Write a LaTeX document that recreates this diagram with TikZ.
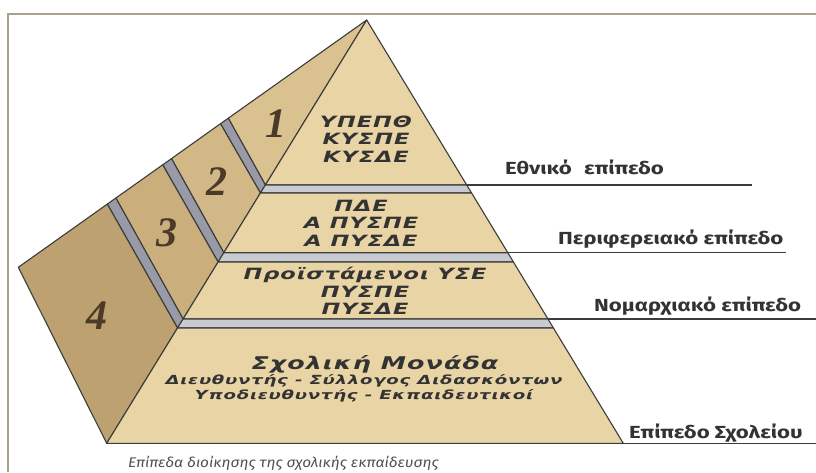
\documentclass[tikz,border=0pt]{standalone}
\usepackage{fontspec}
\setmainfont{DejaVu Sans}
\newfontfamily\tierfont{DejaVu Sans}[FakeStretch=1.45, LetterSpace=6]
\newfontfamily\labelfont{Fira Sans}[FakeStretch=1.27]
\newfontfamily\numfont{Liberation Serif}
\newfontfamily\capfont{Fira Sans}[FakeStretch=1.1]
\definecolor{frontc}{HTML}{E9D4A6}
\definecolor{sideA}{HTML}{DAC190}
\definecolor{sideB}{HTML}{D2B886}
\definecolor{sideC}{HTML}{CAAE7C}
\definecolor{sideD}{HTML}{BDA170}
\definecolor{bandside}{HTML}{989AA7}
\definecolor{bandfront}{HTML}{C8CCD2}
\definecolor{edgec}{HTML}{3C3C3C}
\definecolor{framec}{HTML}{A9A189}
\definecolor{textc}{HTML}{333333}
\definecolor{numc}{HTML}{4B3A27}
\definecolor{capc}{HTML}{505050}
\tikzset{
  piece/.style={draw=edgec, line width=1.1pt, line join=round},
  levelline/.style={draw=edgec, line width=1.1pt},
  tiertext/.style={font=\tierfont\bfseries\itshape\fontsize{15.5}{17.5}\selectfont, text=textc, align=center, inner sep=0pt},
  smalltier/.style={font=\tierfont\bfseries\itshape\fontsize{12.5}{15}\selectfont, text=textc, align=center, inner sep=0pt},
  levellabel/.style={font=\labelfont\bfseries\fontsize{17.5}{19}\selectfont, text=textc, anchor=base west, inner sep=0pt},
  numlabel/.style={font=\numfont\bfseries\itshape\fontsize{42}{42}\selectfont, text=numc, inner sep=0pt},
}
\begin{document}
\begin{tikzpicture}[x=1pt,y=-1pt]
\useasboundingbox (0,0) rectangle (816,472);
\fill[white] (0,0) rectangle (816,472);
% frame
\coordinate (F1) at (8,472);
\coordinate (F2) at (8,14);
\coordinate (F3) at (816,14);
\draw[framec, line width=2.2pt] (F1) -- (F2) -- (F3);
% key points
\coordinate (A) at (366.7,20);
\coordinate (S) at (18.3,267.3);
\coordinate (BL) at (106.7,443.3);
\coordinate (BR) at (623.3,443.3);
\coordinate (P1) at (265.4,185);
\coordinate (P2) at (260.4,193);
\coordinate (P3) at (223.8,252.7);
\coordinate (P4) at (218.1,262);
\coordinate (P5) at (183.1,319);
\coordinate (P6) at (177.5,328);
\coordinate (R1) at (466.7,185);
\coordinate (R2) at (471.6,193);
\coordinate (R3) at (507.8,252.7);
\coordinate (R4) at (513.4,262);
\coordinate (R5) at (548.0,319);
\coordinate (R6) at (553.4,328);
\coordinate (T1a) at (228.3,118.2);
\coordinate (T1b) at (220.5,123.7);
\coordinate (T2a) at (171.5,158.6);
\coordinate (T2b) at (162.7,164.8);
\coordinate (T3a) at (115.9,198.0);
\coordinate (T3b) at (107.3,204.1);
\coordinate (E1) at (752,185);
\coordinate (E2) at (786,252.7);
\coordinate (E3) at (816,319);
\coordinate (E4) at (816,443.3);
% side faces
\filldraw[piece, fill=sideA] (A) -- (T1a) -- (P1) -- cycle;
\filldraw[piece, fill=bandside] (T1a) -- (T1b) -- (P2) -- (P1) -- cycle;
\filldraw[piece, fill=sideB] (T1b) -- (T2a) -- (P3) -- (P2) -- cycle;
\filldraw[piece, fill=bandside] (T2a) -- (T2b) -- (P4) -- (P3) -- cycle;
\filldraw[piece, fill=sideC] (T2b) -- (T3a) -- (P5) -- (P4) -- cycle;
\filldraw[piece, fill=bandside] (T3a) -- (T3b) -- (P6) -- (P5) -- cycle;
\filldraw[piece, fill=sideD] (T3b) -- (S) -- (BL) -- (P6) -- cycle;
% front faces
\filldraw[piece, fill=frontc] (A) -- (P1) -- (R1) -- cycle;
\filldraw[piece, fill=bandfront] (P1) -- (R1) -- (R2) -- (P2) -- cycle;
\filldraw[piece, fill=frontc] (P2) -- (R2) -- (R3) -- (P3) -- cycle;
\filldraw[piece, fill=bandfront] (P3) -- (R3) -- (R4) -- (P4) -- cycle;
\filldraw[piece, fill=frontc] (P4) -- (R4) -- (R5) -- (P5) -- cycle;
\filldraw[piece, fill=bandfront] (P5) -- (R5) -- (R6) -- (P6) -- cycle;
\filldraw[piece, fill=frontc] (P6) -- (R6) -- (BR) -- (BL) -- cycle;
% level lines
\draw[levelline] (R1) -- (E1);
\draw[levelline] (R3) -- (E2);
\draw[levelline] (R5) -- (E3);
\draw[levelline] (BR) -- (E4);
% numbers
\node[numlabel] (n1) at (276,124) {1};
\node[numlabel] (n2) at (217,182) {2};
\node[numlabel] (n3) at (167,233) {3};
\node[numlabel] (n4) at (97,316) {4};
% tier texts
\node[tiertext] (t1) at (366,139) {ΥΠΕΠΘ\\ΚΥΣΠΕ\\ΚΥΣΔΕ};
\node[tiertext] (t2) at (361,223) {ΠΔΕ\\Α ΠΥΣΠΕ\\Α ΠΥΣΔΕ};
\node[tiertext] (t3) at (365,291) {Προϊστάμενοι ΥΣΕ\\ΠΥΣΠΕ\\ΠΥΣΔΕ};
\node[tiertext, font=\tierfont\bfseries\itshape\fontsize{17.5}{19}\selectfont] (t4a) at (375,364) {Σχολική Μονάδα};
\node[smalltier] (t4b) at (364,388) {Διευθυντής - Σύλλογος Διδασκόντων\\Υποδιευθυντής - Εκπαιδευτικοί};
% level labels
\node[levellabel] (l1) at (505,174) {Εθνικό\hspace{0.7em}επίπεδο};
\node[levellabel] (l2) at (558,244) {Περιφερειακό επίπεδο};
\node[levellabel] (l3) at (594,311) {Νομαρχιακό επίπεδο};
\node[levellabel] (l4) at (629,438) {Επίπεδο Σχολείου};
% caption
\node[font=\capfont\itshape\fontsize{14}{16}\selectfont, text=capc, anchor=base west, inner sep=0pt] (cap) at (128,467) {Επίπεδα διοίκησης της σχολικής εκπαίδευσης};
\end{tikzpicture}
\end{document}
